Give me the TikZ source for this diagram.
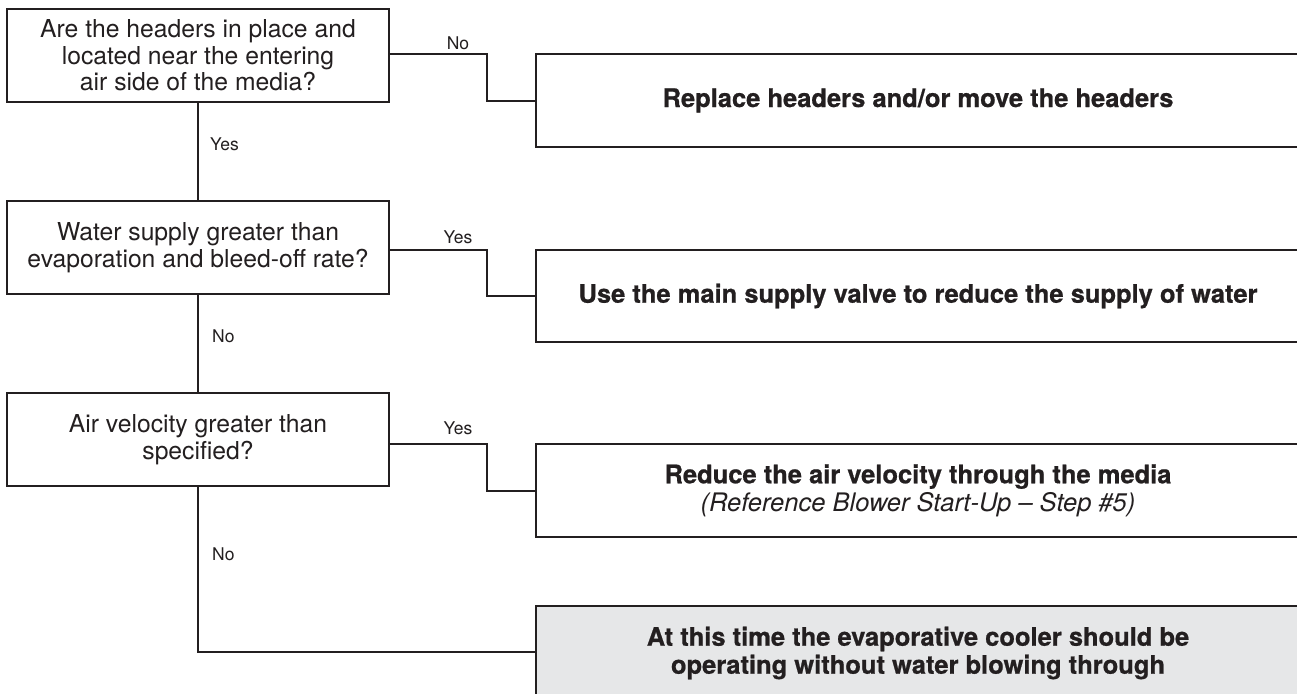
\documentclass[tikz,border=0pt]{standalone}
\usepackage{fontspec}
\setmainfont{TeX Gyre Heros}
\newfontfamily\heavyfont{TeX Gyre Heros}[UprightFont=*-Bold, FakeBold=0.7]
\usetikzlibrary{positioning,calc}
\definecolor{ink}{HTML}{231F20}
\definecolor{panel}{HTML}{E6E7E8}
\tikzset{
  qbox/.style={draw=ink, line width=2pt, rectangle, outer sep=0pt, inner sep=0pt,
    minimum width=382pt, minimum height=93pt, align=center, text=ink,
    font=\fontsize{24.7pt}{26.5pt}\selectfont},
  rbox/.style={draw=ink, line width=2pt, rectangle, outer sep=0pt, inner sep=0pt,
    minimum width=764.6pt, minimum height=93pt, align=center, text=ink,
    font=\heavyfont\fontsize{25.5pt}{28pt}\selectfont},
  conn/.style={draw=ink, line width=2pt},
  lbl/.style={text=ink, inner sep=0pt, font=\fontsize{17.5pt}{19pt}\selectfont},
}
\begin{document}
\begin{tikzpicture}[x=1pt,y=-1pt]
\useasboundingbox (0,0) rectangle (1297,693);
\clip (0,0) rectangle (1297,693);
\fill[white] (0,0) rectangle (1297,693);

% questions
\node[qbox, anchor=north west] (q1) at (7,9) {Are the headers in place and\\located near the entering\\air side of the media?};
\node[qbox, anchor=north west] (q2) at (7,201) {Water supply greater than\\evaporation and bleed-off rate?};
\node[qbox, anchor=north west] (q3) at (7,393) {Air velocity greater than\\specified?};

% results
\node[rbox, anchor=north west] (r1) at (535.7,54) {Replace headers and/or move the headers};
\node[rbox, anchor=north west, minimum height=92pt] (r2) at (535.7,250) {Use the main supply valve to reduce the supply of water};
\node[rbox, anchor=north west] (r3) at (535.7,444) {Reduce the air velocity through the media\\{\normalfont\itshape\fontsize{25.5pt}{28pt}\selectfont (Reference Blower Start-Up -- Step \#5)}};
\node[rbox, anchor=north west, fill=panel, minimum height=94pt] (r4) at (535.7,606) {At this time the evaporative cooler should be\\operating without water blowing through};

% step connectors
\draw[conn] (q1.east |- r1.north) -| ([xshift=-49pt]r1.west) -- (r1.west);
\draw[conn] (q2.east |- r2.north) -| ([xshift=-49pt]r2.west) -- (r2.west);
\draw[conn] (q3.east |- r3.north) -| ([xshift=-49pt]r3.west) -- (r3.west);

% vertical connectors
\draw[conn] (q1.south) -- (q2.north);
\draw[conn] (q2.south) -- (q3.north);
\coordinate (c4) at (q3.south |- 0,652);
\draw[conn] (q3.south) -- (c4) -- (c4 -| r4.west);

% labels
\node[lbl, anchor=base] (l1) at (458,50) {No};
\node[lbl, anchor=base] (l2) at (458,243) {Yes};
\node[lbl, anchor=base] (l3) at (458,434) {Yes};
\node[lbl, anchor=base west] (l4) at (210,150) {Yes};
\node[lbl, anchor=base west] (l5) at (212,342) {No};
\node[lbl, anchor=base west] (l6) at (212,560) {No};
\end{tikzpicture}
\end{document}
